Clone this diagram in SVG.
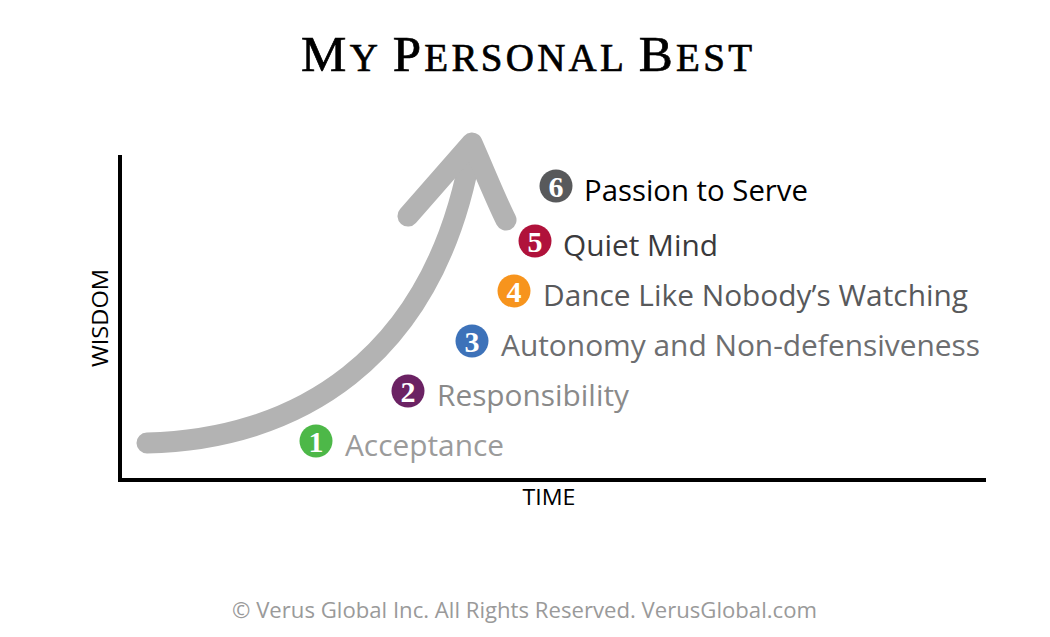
<svg xmlns="http://www.w3.org/2000/svg" width="1050" height="637" viewBox="0 0 1050 637">
<style>
.title{font-family:"Liberation Serif",serif;font-weight:normal;fill:#000;stroke:#000;stroke-width:0.7}
.axis{stroke:#000;stroke-width:4;fill:none}
.axlbl{font-family:"Open Sans","Liberation Sans",sans-serif;font-size:21px;fill:#000}
.lbl{font-family:"Open Sans","Liberation Sans",sans-serif;font-size:29px}
.num{font-family:"Liberation Serif",serif;font-weight:bold;font-size:30px;fill:#fff;text-anchor:middle}
.arrow{stroke:#b3b3b3;stroke-width:21;fill:none;stroke-linecap:round;stroke-linejoin:round}
.foot{font-family:"Open Sans","Liberation Sans",sans-serif;font-size:21px;fill:#9a9a9a}
</style>
<rect width="1050" height="637" fill="#fff"/>
<g id="title">
<text class="title" x="301" y="71" textLength="451" lengthAdjust="spacing"><tspan font-size="51">M</tspan><tspan font-size="39">Y </tspan><tspan font-size="51">P</tspan><tspan font-size="39">ERSONAL </tspan><tspan font-size="51">B</tspan><tspan font-size="39">EST</tspan></text>
</g>
<g id="axes">
<path class="axis" d="M120,155 V480 H986"/>
<text class="axlbl" transform="translate(108,318) rotate(-90)" text-anchor="middle" textLength="98" lengthAdjust="spacingAndGlyphs">WISDOM</text>
<text class="axlbl" x="549" y="505" text-anchor="middle" textLength="53" lengthAdjust="spacingAndGlyphs">TIME</text>
</g>
<g id="connectors">
<path class="arrow" d="M147,443 C290,440 435,365 472,146"/>
<path class="arrow" d="M408,216 L472,143 C484,170 496,200 506,220"/>
</g>
<g id="step1">
<circle cx="316" cy="441" r="16.5" fill="#4db848"/>
<text class="num" x="316" y="452">1</text>
<text class="lbl" x="345" y="456" fill="#9b9b9b" textLength="159" lengthAdjust="spacingAndGlyphs">Acceptance</text>
</g>
<g id="step2">
<circle cx="408" cy="391" r="16.5" fill="#6b2263"/>
<text class="num" x="408" y="402">2</text>
<text class="lbl" x="437" y="406" fill="#8a8a8a" textLength="192" lengthAdjust="spacingAndGlyphs">Responsibility</text>
</g>
<g id="step3">
<circle cx="472" cy="341" r="16.5" fill="#3d72b9"/>
<text class="num" x="472" y="352">3</text>
<text class="lbl" x="501" y="356" fill="#6d6e70" textLength="479" lengthAdjust="spacingAndGlyphs">Autonomy and Non-defensiveness</text>
</g>
<g id="step4">
<circle cx="514" cy="291" r="16.5" fill="#f7941d"/>
<text class="num" x="514" y="302">4</text>
<text class="lbl" x="543" y="306" fill="#58595b" textLength="425" lengthAdjust="spacingAndGlyphs">Dance Like Nobody’s Watching</text>
</g>
<g id="step5">
<circle cx="535" cy="241" r="16.5" fill="#b0123b"/>
<text class="num" x="535" y="252">5</text>
<text class="lbl" x="563" y="256" fill="#3a3a3c" textLength="155" lengthAdjust="spacingAndGlyphs">Quiet Mind</text>
</g>
<g id="step6">
<circle cx="556" cy="186" r="16.5" fill="#58595b"/>
<text class="num" x="556" y="197">6</text>
<text class="lbl" x="584" y="201" fill="#000" textLength="224" lengthAdjust="spacingAndGlyphs">Passion to Serve</text>
</g>
<g id="footer">
<text class="foot" x="232" y="618" textLength="585" lengthAdjust="spacingAndGlyphs">© Verus Global Inc. All Rights Reserved. VerusGlobal.com</text>
</g>
</svg>
